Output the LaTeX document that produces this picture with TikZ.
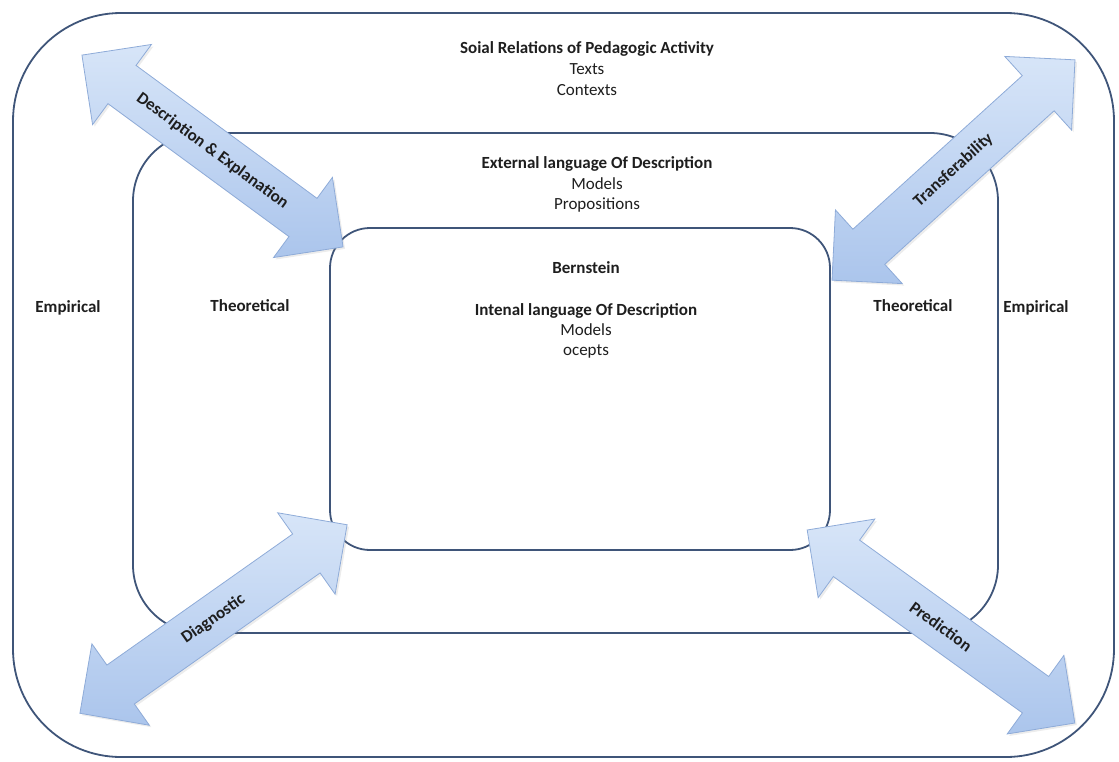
\documentclass[tikz,border=0pt]{standalone}
\usepackage{fontspec}
\setmainfont{Carlito}
\usetikzlibrary{shapes.arrows,shadows}
\definecolor{boxline}{HTML}{3F5579}
\definecolor{arrowlight}{HTML}{D7E5F8}
\definecolor{arrowdark}{HTML}{ABC5EC}
\definecolor{arrowedge}{HTML}{8EABD8}
\definecolor{ink}{HTML}{1E1E1E}

\begin{document}
\begin{tikzpicture}[x=1pt,y=-1pt,
  boxframe/.style={draw=boxline, line width=1.8pt, inner sep=0pt},
  txt/.style={text=ink, font=\fontsize{17}{20.5}\selectfont, inner sep=0pt, anchor=base},
  head/.style={txt, font=\fontsize{17}{20.5}\selectfont\bfseries},
  dbl/.style={double arrow, draw=arrowedge, line width=0.8pt,
    top color=arrowlight, bottom color=arrowdark,
    double arrow head extend=26pt, inner xsep=0pt, inner ysep=16pt,
    text=ink, font=\fontsize{17}{19}\selectfont\bfseries,
    drop shadow={opacity=0.15, shadow xshift=2pt, shadow yshift=-2pt}}
]
\useasboundingbox (0,0) rectangle (1119,761);

% nested frames
\node[boxframe, rounded corners=108pt, minimum width=1101pt, minimum height=744pt] (outer) at (563.5,385) {};
\node[boxframe, rounded corners=68pt, minimum width=865pt, minimum height=500pt] (middle) at (565.5,383) {};
\node[boxframe, rounded corners=40pt, minimum width=500pt, minimum height=322pt] (inner) at (580,389) {};

% outer band
\node[head] (social) at (587,53) {Soial Relations of Pedagogic Activity};
\node[txt] (texts) at (587,74) {Texts};
\node[txt] (contexts) at (587,95) {Contexts};

% middle band
\node[head] (external) at (597,168) {External language Of Description};
\node[txt] (models1) at (597,189) {Models};
\node[txt] (props) at (597,209) {Propositions};

% inner box
\node[head] (bernstein) at (586,273) {Bernstein};
\node[head] (internal) at (586,315) {Intenal language Of Description};
\node[txt] (models2) at (586,335) {Models};
\node[txt] (ocepts) at (586,355) {ocepts};

% side labels
\node[head] (empL) at (68,312) {Empirical};
\node[head] (theoL) at (250,311) {Theoretical};
\node[head] (theoR) at (913,311) {Theoretical};
\node[head] (empR) at (1036,312) {Empirical};

% diagonal double arrows
\node[dbl, rotate=-36.3, minimum height=324pt] (descr) at (212.5,151) {Description \& Explanation};
\node[dbl, rotate=42.2, minimum height=328pt] (transfer) at (953.5,170) {Transferability};
\node[dbl, rotate=35.2, minimum height=327pt] (diag) at (213.5,619) {Diagnostic};
\node[dbl, rotate=-35.8, minimum height=330pt] (pred) at (941,626.5) {Prediction};
\end{tikzpicture}
\end{document}
